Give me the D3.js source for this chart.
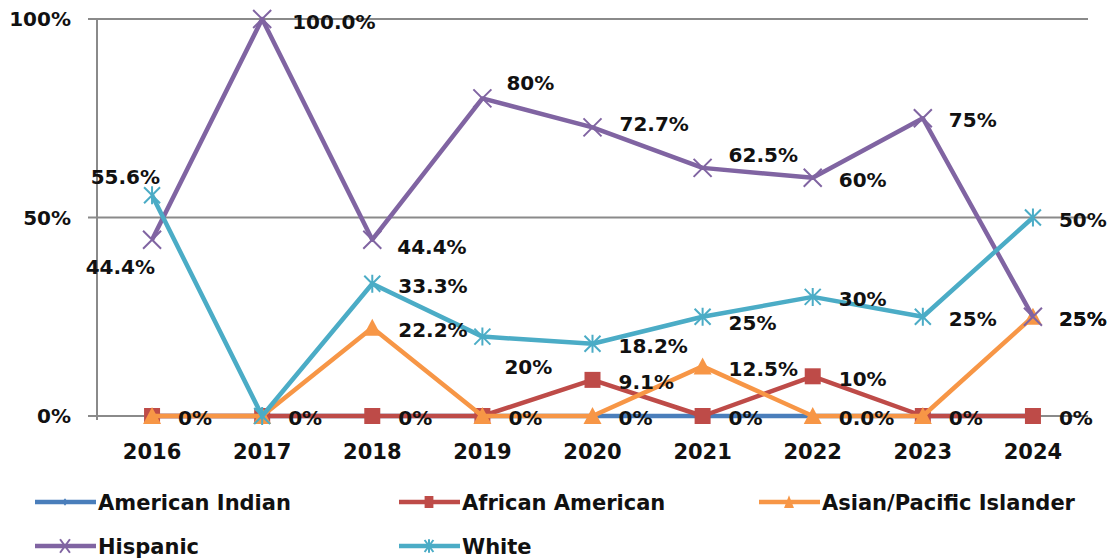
<!DOCTYPE html>
<html><head><meta charset="utf-8">
<script src="https://cdn.jsdelivr.net/npm/d3@7"></script>
<style>
html,body{margin:0;padding:0;background:#fff;}
svg{display:block;font-family:"DejaVu Sans",sans-serif;font-weight:bold;}
</style></head>
<body><svg id="chart" width="1115" height="560"></svg>
<script>
const years = ["2016","2017","2018","2019","2020","2021","2022","2023","2024"];
const seriesNames = ["American Indian","African American","Asian/Pacific Islander","Hispanic","White"];
const americanIndian = [0,0,0,0,0,0,0,0,0];
const africanAmerican = [0,0,0,0,9.1,0,10,0,0];
const asianPacific = [0,0,22.2,0,0,12.5,0,0,25];
const hispanic = [44.4,100,44.4,80,72.7,62.5,60,75,25];
const white = [55.6,0,33.3,20,18.2,25,30,25,50];
const americanIndianLabels = ["0%","0%","0%","0%","0%","0%","0.0%","0%","0%"];
const africanAmericanLabels = [null,null,null,null,"9.1%",null,"10%",null,null];
const asianPacificLabels = [null,null,"22.2%",null,null,"12.5%",null,null,"25%"];
const hispanicLabels = ["44.4%","100.0%","44.4%","80%","72.7%","62.5%","60%","75%","25%"];
const whiteLabels = ["55.6%",null,"33.3%","20%","18.2%","25%","30%","25%","50%"];
const yTicks = [0,50,100];
const yTickLabels = ["0%","50%","100%"];

(function(){
const colors = ["#4a7ebb","#be4b48","#f79646","#8064a2","#4bacc6"];
const markers = ["diamond","square","triangle","x","asterisk"];
const values = [americanIndian,africanAmerican,asianPacific,hispanic,white];
const labels = [americanIndianLabels,africanAmericanLabels,asianPacificLabels,hispanicLabels,whiteLabels];

const svg = d3.select("#chart");
const pLeft = 97, pRight = 1088, pTop = 19, pBottom = 416;
const x = d3.scaleBand().domain(years).range([pLeft, pRight]);
const xc = d => x(d) + x.bandwidth()/2;
const y = d3.scaleLinear().domain([0,100]).range([pBottom, pTop]);

// gridlines
svg.append("g").selectAll("line").data(yTicks).join("line")
  .attr("x1", pLeft-9).attr("x2", pRight)
  .attr("y1", d=>y(d)).attr("y2", d=>y(d))
  .attr("stroke","#8a8a8a").attr("stroke-width",2);
svg.append("line").attr("x1",pLeft).attr("x2",pLeft).attr("y1",pTop).attr("y2",pBottom+4)
  .attr("stroke","#8a8a8a").attr("stroke-width",2);

// y tick labels
svg.append("g").selectAll("text").data(yTicks).join("text")
  .attr("x", 71).attr("y", d=>y(d)).attr("dy","0.36em")
  .attr("text-anchor","end").attr("font-size",20).attr("fill","#111")
  .text((d,i)=>yTickLabels[i]);

// x tick labels
svg.append("g").selectAll("text").data(years).join("text")
  .attr("x", d=>xc(d)).attr("y", 459)
  .attr("text-anchor","middle").attr("font-size",21).attr("fill","#111")
  .text(d=>d);

function drawMarker(g, type, color, cx, cy, sx, sy){
  sx = sx || 1; sy = sy || 1;
  const m = g.append("g").attr("transform",`translate(${cx},${cy}) scale(${sx},${sy})`);
  if(type==="diamond"){
    m.append("path").attr("d","M0,-5L5,0L0,5L-5,0Z").attr("fill",color);
  } else if(type==="square"){
    m.append("rect").attr("x",-8).attr("y",-8).attr("width",16).attr("height",16).attr("fill",color);
  } else if(type==="triangle"){
    m.append("path").attr("d","M0,-9L9,8L-9,8Z").attr("fill",color);
  } else if(type==="x"){
    m.append("path").attr("d","M-9,-9L9,9M-9,9L9,-9")
      .attr("stroke",color).attr("stroke-width",2).attr("vector-effect","non-scaling-stroke");
  } else if(type==="asterisk"){
    m.append("path").attr("d","M-8,-8L8,8M-8,8L8,-8M0,-9L0,9")
      .attr("stroke",color).attr("stroke-width",2).attr("vector-effect","non-scaling-stroke");
  }
}

const line = d3.line().x((d,i)=>xc(years[i])).y(d=>y(d));
const plot = svg.append("g");
values.forEach((vals, s) => {
  const g = plot.append("g");
  g.append("path").datum(vals).attr("d", line).attr("fill","none")
    .attr("stroke", colors[s]).attr("stroke-width", 4.5).attr("stroke-linejoin","round");
  vals.forEach((v,i)=> drawMarker(g, markers[s], colors[s], xc(years[i]), y(v)));
});

// data labels
const labelOffsets = {
  "3-0":[3,27,"end"], "4-0":[8,-18,"end"],
  "3-1":[30,3], "3-2":[25,7], "3-3":[24,-16], "3-4":[27,-4], "3-5":[26,-13],
  "4-3":[22,30], "4-5":[26,6]
};
const lab = svg.append("g").attr("font-size",20).attr("fill","#111");
labels.forEach((arr, s) => {
  arr.forEach((t, i) => {
    if(t===null) return;
    const off = labelOffsets[s+"-"+i] || [26,2,"start"];
    lab.append("text")
      .attr("x", xc(years[i]) + off[0])
      .attr("y", y(values[s][i]) + off[1])
      .attr("dy","0.36em")
      .attr("text-anchor", off[2] || "start")
      .text(t);
  });
});

// legend
const legendPos = [[35,502],[399,502],[759,502],[35,546],[399,546]];
const leg = svg.append("g");
seriesNames.forEach((name, s) => {
  const [lx, ly] = legendPos[s];
  const g = leg.append("g");
  g.append("line").attr("x1",lx).attr("x2",lx+61).attr("y1",ly).attr("y2",ly)
    .attr("stroke",colors[s]).attr("stroke-width",4.5);
  drawMarker(g, markers[s], colors[s], lx+30, ly, 0.55, 0.75);
  g.append("text").attr("x", lx+63).attr("y", ly).attr("dy","0.36em")
    .attr("font-size",21).attr("fill","#111").text(name);
});
})();
</script></body></html>
